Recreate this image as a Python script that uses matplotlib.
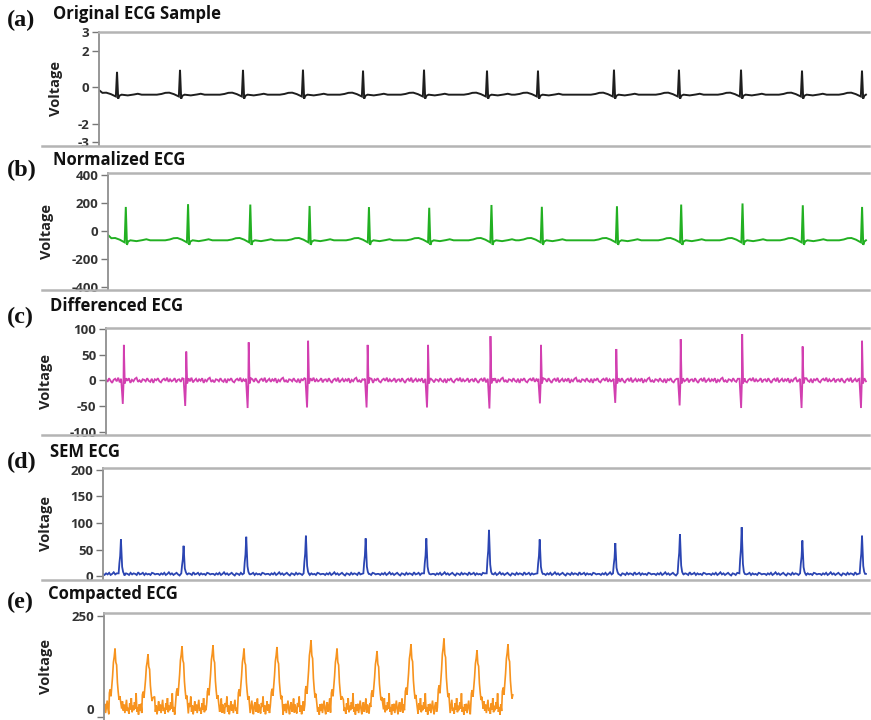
import numpy as np
import matplotlib
matplotlib.use("Agg")
import matplotlib.pyplot as plt
from matplotlib.lines import Line2D

# ---------------- data ----------------
panel_letters = ["(a)", "(b)", "(c)", "(d)", "(e)"]
panel_titles = ["Original ECG Sample", "Normalized ECG", "Differenced ECG",
                "SEM ECG", "Compacted ECG"]

# R-peak times (s) shared by panels a-d
beat_t = [0.234, 1.052, 1.870, 2.649, 3.429, 4.221, 5.039, 5.701,
          6.688, 7.532, 8.338, 9.130, 9.909]
t_end = 9.96

# (a) original
orig_peak = [0.83, 0.94, 0.94, 0.95, 0.90, 0.95, 0.90, 0.90,
             0.95, 0.95, 0.95, 0.90, 0.90]
orig_base = -0.42
orig_start = -0.17
# beat waveform offsets (s) and values relative to baseline (orig units); None = R peak
wave_dt = [-0.30, -0.24, -0.19, -0.14, -0.08, -0.035, -0.015, 0.0,
           0.015, 0.03, 0.06, 0.14, 0.22, 0.27, 0.32]
wave_dv = [0.00, 0.04, 0.10, 0.11, 0.03, -0.06, -0.10, None,
           -0.22, -0.06, 0.00, -0.04, 0.01, 0.05, 0.00]

# (b) normalized
norm_peak = [171, 191, 188, 178, 170, 165, 185, 172, 176, 188, 196, 183, 171]
norm_base = -68
norm_start = -30
norm_scale = 150

# (c) differenced
diff_pos = [69, 56, 74, 77, 69, 69, 86, 69, 61, 80, 90, 66, 77]
diff_neg = [-46, -50, -54, -53, -53, -53, -55, -45, -44, -49, -54, -54, -54]
diff_noise = [2, -3, 4, -1, -5, 1, 3, -2, 5, -4, 0, 3, -3, 2, -1, 4, -5, 1,
              -2, 3, 5, -3, 0, -4, 2, 1, -2, 4, -1, -3, 3, -5, 2, 0, 4, -2,
              -4, 1, 3, -1, 5, -3, 2, -2, 0, 4, -4, 1]

# (d) SEM
sem_peak = [69, 57, 74, 76, 71, 71, 87, 69, 62, 79, 92, 67, 76]
sem_noise = [4, 2, 5, 3, 6, 2, 4, 7, 3, 5, 2, 4, 6, 3, 1, 5, 4, 2, 6, 3,
             5, 4, 2, 7, 3, 4, 6, 2, 5, 3, 4, 2, 6, 5, 3, 4]

# (e) compacted
comp_t = [0.144, 0.575, 1.020, 1.425, 1.830, 2.261, 2.706, 3.046,
          3.569, 4.013, 4.444, 4.876, 5.281]
comp_peak = [169, 155, 175, 177, 169, 173, 190, 169, 163, 180, 194, 165, 180]
comp_end = 5.333
comp_noise = [14, 32, 9, 25, 40, 18, 6, 28, 36, 12, 22, 45, 10, 30, 16, 8,
              34, 24, 50, 12, 28, 6, 20, 38, 15, 30, 9, 26, 42, 14, 22, 7,
              33, 18, 46, 11, 27, 16, 36, 20, 58, 12, 24, 5, 31]
comp_shape = [0.35, 0.40, 0.30, 0.45, 0.60, 0.80, 0.88, 1.00, 0.80, 0.76,
              0.50, 0.36, 0.25, 0.30]
comp_shape_off = -7

# axis ticks
yticks = [[3, 2, 0, -2, -3], [400, 200, 0, -200, -400], [100, 50, 0, -50, -100],
          [200, 150, 100, 50, 0], [250, 0]]
ytick_labels = [["3", "2", "0", "-2", "-3"],
                ["400", "200", "0", "-200", "-400"],
                ["100", "50", "0", "-50", "-100"],
                ["200", "150", "100", "50", "0"],
                ["250", "0"]]
ylims = [(-3.21, 3.03), (-424, 412), (-106.6, 102.5), (-6.6, 203.2), (-7, 256.6)]
colors = ["#1e1e1e", "#22b022", "#d23fb0", "#2b45b2", "#f7931e"]

# ---------------- layout (pixels) ----------------
W, H = 871, 720
lefts = [99, 108, 106, 103, 104]
tops = [31.7, 173.3, 327.7, 468.3, 613.3]
bottoms = [145.6, 290.0, 435.0, 579.5, 719.5]
right = 869
letter_y = [20, 170, 317, 462, 602]
title_y = [14, 160, 306, 452, 594]
title_x = [53, 53, 50, 50, 48]
ylabel_x = [56, 47, 46, 46, 46]


def ecg_trace(peaks, base, start, scale):
    xs, ys = [0.0], [start]
    for bt, pk in zip(beat_t, peaks):
        for d, v in zip(wave_dt, wave_dv):
            x = bt + d
            if x <= 0 or x > t_end:
                continue
            xs.append(x)
            ys.append(pk if v is None else base + v * scale)
    xs.append(t_end)
    ys.append(base)
    return np.array(xs), np.array(ys)


def noisy_trace(grid_dt, end, noise, events, halfwidth):
    g = np.arange(0, end, grid_dt)
    keep = np.ones(len(g), bool)
    for bt, _ in events:
        keep &= np.abs(g - bt) > halfwidth
    xs = list(g[keep])
    ys = [noise[i % len(noise)] for i in np.nonzero(keep)[0]]
    for _, pts in events:
        for x, y in pts:
            xs.append(x)
            ys.append(y)
    order = np.argsort(xs)
    return np.array(xs)[order], np.array(ys)[order]


fig = plt.figure(figsize=(W / 100, H / 100), dpi=100)
fig.patch.set_facecolor("white")

traces = []
traces.append(ecg_trace(orig_peak, orig_base, orig_start, 1.0))
traces.append(ecg_trace(norm_peak, norm_base, norm_start, norm_scale))

ev_c = []
for bt, p, n in zip(beat_t, diff_pos, diff_neg):
    ev_c.append((bt, [(bt - 0.035, 3), (bt - 0.014, n), (bt - 0.005, -9),
                      (bt, p), (bt + 0.012, -6), (bt + 0.03, 4)]))
traces.append(noisy_trace(0.02, t_end, diff_noise, ev_c, 0.04))

ev_d = []
for bt, p in zip(beat_t, sem_peak):
    ev_d.append((bt, [(bt - 0.03, 5), (bt - 0.02, 0.35 * p), (bt - 0.01, 0.55 * p),
                      (bt, p), (bt + 0.008, 0.6 * p), (bt + 0.016, 0.25 * p),
                      (bt + 0.028, 8), (bt + 0.04, 4)]))
traces.append(noisy_trace(0.02, t_end, sem_noise, ev_d, 0.045))

dt_e = 0.0105
ev_e = []
for bt, p in zip(comp_t, comp_peak):
    pts = [(bt + (comp_shape_off + k) * dt_e, f * p) for k, f in enumerate(comp_shape)]
    ev_e.append((bt, pts))
traces.append(noisy_trace(dt_e, comp_end, comp_noise, ev_e, 0.078))

lw = [1.4, 1.4, 1.3, 1.3, 1.2]

for i in range(5):
    ax = fig.add_axes([lefts[i] / W, 1 - bottoms[i] / H,
                       (right - lefts[i]) / W, (bottoms[i] - tops[i]) / H])
    x, y = traces[i]
    ax.plot(x, y, color=colors[i], lw=lw[i], solid_joinstyle="miter")
    ax.set_xlim(0, 10)
    ax.set_ylim(*ylims[i])
    ax.set_xticks([])
    ax.set_yticks(yticks[i])
    labs = ax.set_yticklabels(ytick_labels[i], fontfamily="Open Sans", fontweight="bold")
    ax.tick_params(axis="y", direction="out", length=5, width=1.0, color="#777777",
                   labelsize=9.5, labelcolor="#333333", pad=2)
    if i == 4:
        labs[-1].set_verticalalignment("bottom")
    for s in ["right", "bottom"]:
        ax.spines[s].set_visible(False)
    ax.spines["left"].set_color("#8f8f8f")
    ax.spines["left"].set_linewidth(1.3)
    ax.spines["top"].set_color("#b4b4b4")
    ax.spines["top"].set_linewidth(1.8)

    fig.text(7 / W, 1 - letter_y[i] / H, panel_letters[i], fontfamily="Liberation Serif",
             fontweight="bold", fontsize=17.5, va="center", ha="left", color="#111111")
    fig.text(title_x[i] / W, 1 - title_y[i] / H, panel_titles[i], fontfamily="Open Sans",
             fontweight="bold", fontsize=12, va="center", ha="left", color="#111111")
    cy = (tops[i] + bottoms[i]) / 2
    fig.text(ylabel_x[i] / W, 1 - cy / H, "Voltage", fontfamily="Open Sans",
             fontweight="bold", fontsize=10.5, va="center", ha="center",
             rotation=90, color="#222222")
    if i < 4:
        fig.add_artist(Line2D([42 / W, right / W], [1 - bottoms[i] / H] * 2,
                              color="#b4b4b4", lw=1.8))

fig.savefig("out.png", dpi=100, facecolor="white")
